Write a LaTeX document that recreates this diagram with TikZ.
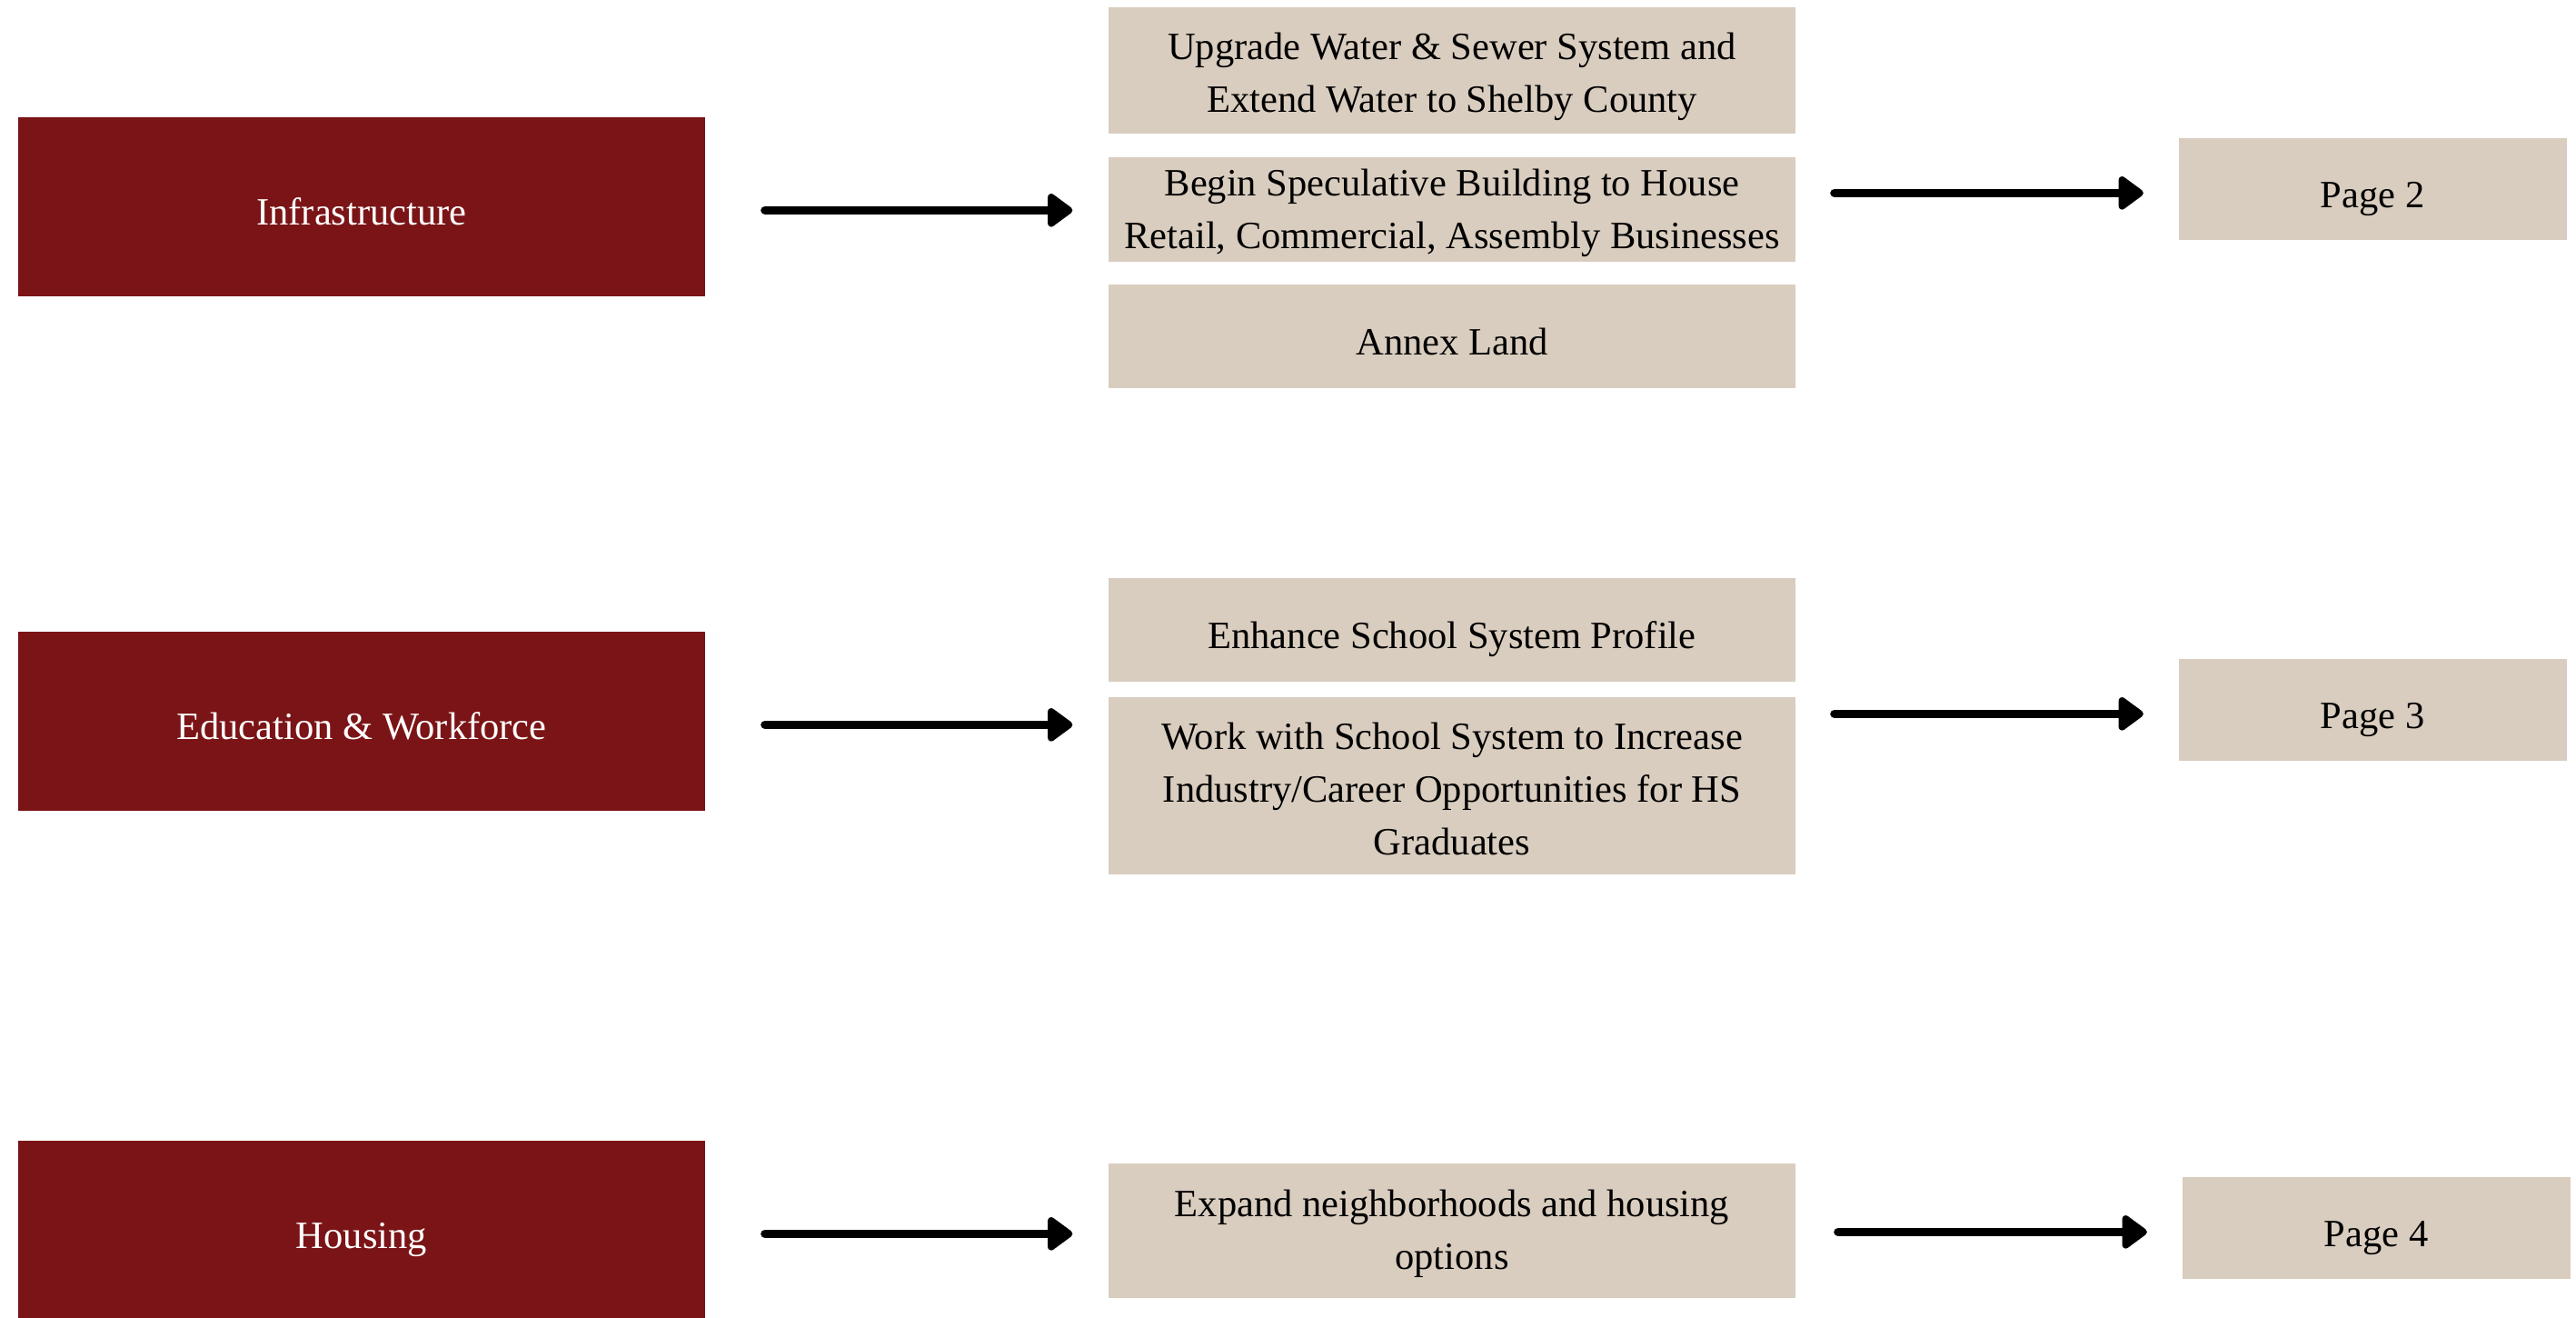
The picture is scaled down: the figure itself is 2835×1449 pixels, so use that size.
\documentclass[tikz,border=0pt]{standalone}
\usepackage{fontspec}
\setmainfont{Liberation Serif}
\usetikzlibrary{arrows.meta}
\definecolor{pillarred}{RGB}{123,20,22}
\definecolor{sandbeige}{RGB}{217,205,191}
\begin{document}
\begin{tikzpicture}[x=0.3pt,y=0.3pt,yscale=-1,
    every node/.style={font=\fontsize{12.75}{17.4}\selectfont, align=center, inner sep=0pt,
      execute at begin node={\rule{0pt}{16pt}}, execute at end node={\rule[-3.5pt]{0pt}{3.5pt}}},
    drop/.style={execute at begin node={\rule{0pt}{#1}}},
    pillar/.style={fill=pillarred, text=white, minimum width=226.8pt, minimum height=59.1pt},
    goal/.style={fill=sandbeige, minimum width=226.8pt},
    pagebox/.style={fill=sandbeige, minimum width=128.1pt, minimum height=33.6pt},
    flow/.style={line width=2.9pt, line cap=round, -{Triangle[length=9pt,width=12.5pt,round]}}]
    \useasboundingbox (0,0) rectangle (2835,1449);

    % Pillars
    \node[pillar] (infra) at (398,227) {Infrastructure};
    \node[pillar] (edu) at (398,793) {Education \& Workforce};
    \node[pillar] (housing) at (398,1353) {Housing};

    % Goals
    \node[goal, minimum height=41.7pt, drop=31.5pt] (water) at (1598,77) {Upgrade Water \& Sewer System and\\Extend Water to Shelby County};
    \node[goal, minimum height=34.5pt, drop=29.5pt] (spec) at (1598,230) {Begin Speculative Building to House\\Retail, Commercial, Assembly Businesses};
    \node[goal, minimum height=34.2pt] (annex) at (1598,370) {Annex Land};
    \node[goal, minimum height=34.2pt] (profile) at (1598,693) {Enhance School System Profile};
    \node[goal, minimum height=58.5pt, drop=49.5pt] (career) at (1598,864) {Work with School System to Increase\\Industry/Career Opportunities for HS\\Graduates};
    \node[goal, minimum height=44.4pt, drop=29pt] (expand) at (1598,1354) {Expand neighborhoods and housing\\options};

    % Pages
    \node[pagebox] (page2) at (2611,208) {Page 2};
    \node[pagebox] (page3) at (2611,781) {Page 3};
    \node[pagebox] (page4) at (2615,1351) {Page 4};

    % Arrows
    \draw[flow, shorten <=19.6pt, shorten >=11.7pt] ([yshift=1.3pt]infra.east) -- ([yshift=1.3pt]infra.east -| spec.west);
    \draw[flow, shorten <=19.6pt, shorten >=11.7pt] ([yshift=1.3pt]edu.east) -- ([yshift=1.3pt]edu.east -| career.west);
    \draw[flow, shorten <=19.6pt, shorten >=11.7pt] ([yshift=1.3pt]housing.east) -- ([yshift=1.3pt]housing.east -| expand.west);
    \draw[flow, shorten <=12.7pt, shorten >=11.4pt] ([yshift=1.3pt]page2.west -| spec.east) -- ([yshift=1.3pt]page2.west);
    \draw[flow, shorten <=12.7pt, shorten >=11.4pt] ([yshift=1.3pt]page3.west -| career.east) -- ([yshift=1.3pt]page3.west);
    \draw[flow, shorten <=13.9pt, shorten >=11.4pt] ([yshift=1.3pt]page4.west -| expand.east) -- ([yshift=1.3pt]page4.west);
\end{tikzpicture}
\end{document}
